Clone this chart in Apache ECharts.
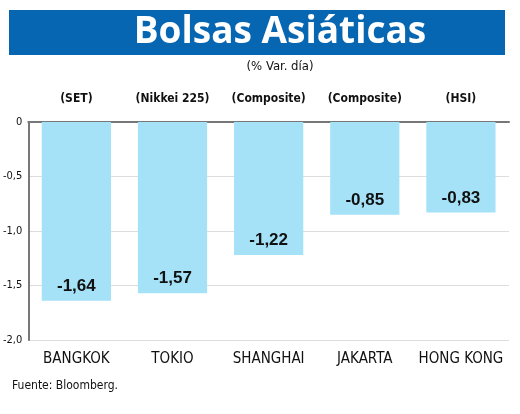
<!DOCTYPE html>
<html><head><meta charset="utf-8">
<script src="https://cdn.jsdelivr.net/npm/echarts@6/dist/echarts.min.js"></script>
<style>html,body{margin:0;padding:0;background:#fff}#c{width:520px;height:414px}</style>
</head><body><div id="c"></div>
<script>
var cities = ['BANGKOK', 'TOKIO', 'SHANGHAI', 'JAKARTA', 'HONG KONG'];
var indices = ['(SET)', '(Nikkei 225)', '(Composite)', '(Composite)', '(HSI)'];
var values = [-1.64, -1.57, -1.22, -0.85, -0.83];
var yTicks = { min: -2, max: 0, interval: 0.5 };

var narrow = "'Liberation Sans Narrow','DejaVu Sans Condensed',sans-serif";
var chart = echarts.init(document.getElementById('c'), null, { renderer: 'canvas' });
chart.setOption({
  animation: false,
  graphic: [
    { type: 'rect', shape: { x: 9, y: 10, width: 496, height: 45 }, style: { fill: '#0766b1' } },
    { type: 'text', x: 280, y: 32, style: { text: 'Bolsas Asiáticas', fill: '#fff', font: "bold 37px 'Open Sans',Lato,sans-serif", textAlign: 'center', textVerticalAlign: 'middle' } },
    { type: 'text', x: 280, y: 67, style: { text: '(% Var. día)', fill: '#111', font: "13px " + narrow, textAlign: 'center', textVerticalAlign: 'middle' } },
    { type: 'text', x: 12, y: 386, style: { text: 'Fuente: Bloomberg.', fill: '#111', font: "12px " + narrow, textAlign: 'left', textVerticalAlign: 'middle' } }
  ],
  grid: { left: 28, right: 11, top: 122, bottom: 74 },
  xAxis: [
    { type: 'category', data: indices, position: 'top',
      axisLine: { show: true, onZero: false, lineStyle: { color: '#777', width: 2 } },
      axisTick: { show: false },
      axisLabel: { interval: 0, color: '#111', fontSize: 12, fontWeight: 'bold', fontFamily: narrow, margin: 17 } },
    { type: 'category', data: cities, position: 'bottom',
      axisLine: { show: false }, axisTick: { show: false },
      axisLabel: { interval: 0, color: '#111', fontSize: 15, fontFamily: narrow, margin: 12 } }
  ],
  yAxis: {
    type: 'value', min: yTicks.min, max: yTicks.max, interval: yTicks.interval,
    axisLine: { show: true, lineStyle: { color: '#777', width: 2 } },
    axisTick: { show: false },
    splitLine: { lineStyle: { color: '#ddd', width: 1 } },
    axisLabel: { color: '#111', fontSize: 11, fontFamily: narrow, margin: 6,
      formatter: function (v) { return v === 0 ? '0' : v.toFixed(1).replace('.', ','); } }
  },
  series: [{
    type: 'bar', data: values, xAxisIndex: 0, barWidth: '72%',
    itemStyle: { color: '#a5e2f7' },
    label: { show: true, position: 'insideBottom', distance: 6, color: '#111',
      fontSize: 17, fontWeight: 'bold', fontFamily: "'Liberation Sans','DejaVu Sans',sans-serif",
      formatter: function (p) { return p.value.toFixed(2).replace('.', ','); } }
  }]
});
</script></body></html>
